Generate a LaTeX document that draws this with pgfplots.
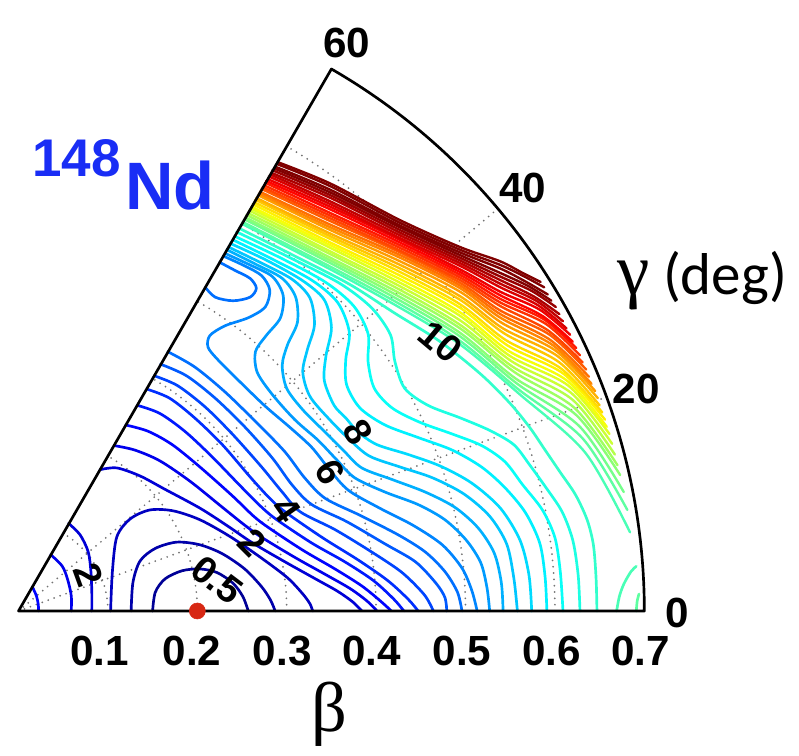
\documentclass[border=0pt]{standalone}
\usepackage{pgfplots}
\pgfplotsset{compat=1.18}
\usepackage{fontspec}
\setmainfont{Liberation Sans}
\newfontfamily\greekfont{Liberation Serif}
\newfontfamily\unitfont{Carlito}
\definecolor{nucblue}{RGB}{25,45,245}
\definecolor{dotred}{RGB}{215,40,20}
\definecolor{gridgray}{RGB}{115,115,115}
\tikzset{
  ticklab/.style={font=\bfseries\fontsize{30}{30}\selectfont, anchor=center},
  clab/.style={font=\bfseries\fontsize{27}{27}\selectfont, anchor=center, inner sep=0pt},
}
\begin{document}
\begin{tikzpicture}
\begin{axis}[
  x=223.5mm, y=223.5mm,
  xmin=-0.0207, xmax=0.8730, ymin=-0.1611, ymax=0.6834,
  hide axis, clip=false,
  % jet, saturating at dark red from about 23.5 MeV upwards
  colormap={jetx}{rgb255(0cm)=(0,0,128) rgb255(1cm)=(0,0,255) rgb255(3cm)=(0,255,255)
    rgb255(5cm)=(255,255,0) rgb255(7cm)=(255,0,0) rgb255(8cm)=(128,0,0) rgb255(8.5cm)=(128,0,0)},
  lev/.style={color of colormap={#1}, line width=1.9pt, smooth, line join=round, line cap=round},
  wall/.style={lev=#1, line width=1.7pt},
]
\path (rel axis cs:0,0) rectangle (rel axis cs:1,1);

% polar grid: beta circles every 0.1, gamma rays at 20 and 40 degrees
\begin{scope}[gridgray, line width=1.4pt, dash pattern=on 0pt off 4.5pt, line cap=round]
\draw (axis cs:0,0) ++(0:22.35mm) arc[start angle=0,end angle=60,radius=22.35mm];
\draw (axis cs:0,0) ++(0:44.7mm) arc[start angle=0,end angle=60,radius=44.7mm];
\draw (axis cs:0,0) ++(0:67.05mm) arc[start angle=0,end angle=60,radius=67.05mm];
\draw (axis cs:0,0) ++(0:89.4mm) arc[start angle=0,end angle=60,radius=89.4mm];
\draw (axis cs:0,0) ++(0:111.75mm) arc[start angle=0,end angle=60,radius=111.75mm];
\draw (axis cs:0,0) ++(0:134.1mm) arc[start angle=0,end angle=60,radius=134.1mm];
\draw (axis cs:0,0) -- ++(20:156.45mm);
\draw (axis cs:0,0) -- ++(40:156.45mm);
\end{scope}

% ---- potential energy contours, (beta cos gamma, beta sin gamma), levels in MeV ----
% 0.5
\addplot[lev=20] coordinates {(0.150,0)(0.153,0.021)(0.164,0.036)(0.183,0.045)(0.203,0.047)(0.222,0.043)(0.240,0.031)(0.251,0.016)(0.257,0)};
% 1.0
\addplot[lev=40] coordinates {(0.126,0)(0.128,0.032)(0.136,0.056)(0.153,0.070)(0.177,0.077)(0.203,0.074)(0.228,0.064)(0.253,0.047)(0.272,0.027)(0.282,0.012)(0.287,0)};
% 1.5
\addplot[lev=60] coordinates {(0.103,0)(0.105,0.044)(0.110,0.083)(0.125,0.103)(0.147,0.113)(0.173,0.112)(0.203,0.102)(0.237,0.083)(0.272,0.059)(0.301,0.037)(0.318,0.019)(0.326,0.008)(0.329,0)};
% 2.0
\addplot[lev=80] coordinates {(0.056,0.098)(0.069,0.085)(0.078,0.066)(0.081,0.044)(0.082,0.021)(0.082,0)};
\addplot[lev=80] coordinates {(0.091,0.158)(0.110,0.160)(0.136,0.151)(0.164,0.136)(0.203,0.115)(0.234,0.095)(0.262,0.076)(0.298,0.055)(0.332,0.036)(0.357,0.022)(0.374,0.010)(0.384,0)};
% 2.5
\addplot[lev=100] coordinates {(0.036,0.063)(0.049,0.050)(0.055,0.035)(0.059,0.017)(0.059,0)};
\addplot[lev=100] coordinates {(0.107,0.185)(0.130,0.180)(0.158,0.168)(0.192,0.145)(0.228,0.116)(0.253,0.096)(0.271,0.083)(0.309,0.060)(0.343,0.041)(0.371,0.025)(0.390,0.011)(0.401,0)};
% 3.0
\addplot[lev=120] coordinates {(0.0155,0.027)(0.020,0.017)(0.022,0.008)(0.0225,0)};
\addplot[lev=120] coordinates {(0.120,0.208)(0.145,0.201)(0.172,0.186)(0.203,0.161)(0.239,0.129)(0.263,0.106)(0.280,0.093)(0.318,0.068)(0.354,0.047)(0.384,0.028)(0.405,0.011)(0.417,0)};
% 3.5
\addplot[lev=140] coordinates {(0.133,0.230)(0.158,0.221)(0.186,0.201)(0.216,0.173)(0.248,0.140)(0.272,0.116)(0.289,0.102)(0.328,0.076)(0.365,0.055)(0.397,0.034)(0.420,0.013)(0.431,0)};
% 4.0
\addplot[lev=160] coordinates {(0.144,0.248)(0.169,0.238)(0.197,0.216)(0.228,0.186)(0.259,0.150)(0.281,0.126)(0.298,0.111)(0.340,0.082)(0.380,0.057)(0.413,0.034)(0.436,0.013)(0.447,0)};
% 4.5
\addplot[lev=180] coordinates {(0.152,0.263)(0.178,0.252)(0.209,0.228)(0.240,0.197)(0.272,0.161)(0.295,0.133)(0.315,0.111)(0.354,0.091)(0.395,0.066)(0.429,0.043)(0.454,0.018)(0.464,0)};
% 5.0
\addplot[lev=200] coordinates {(0.159,0.276)(0.188,0.263)(0.220,0.238)(0.253,0.206)(0.284,0.171)(0.306,0.141)(0.328,0.119)(0.367,0.100)(0.410,0.075)(0.444,0.055)(0.467,0.031)(0.477,0.015)(0.479,0)};
% 5.5 (main valley and oblate pocket)
\addplot[lev=220] coordinates {(0.167,0.290)(0.197,0.273)(0.231,0.245)(0.268,0.209)(0.298,0.178)(0.320,0.149)(0.343,0.126)(0.382,0.107)(0.425,0.085)(0.455,0.066)(0.477,0.044)(0.491,0.021)(0.496,0)};
\addplot[lev=220] coordinates {(0.225,0.390)(0.242,0.381)(0.259,0.372)(0.266,0.361)(0.259,0.351)(0.240,0.347)(0.220,0.351)(0.209,0.362)};
% 6.0
\addplot[lev=240] coordinates {(0.229,0.397)(0.253,0.386)(0.272,0.375)(0.281,0.359)(0.276,0.340)(0.257,0.328)(0.231,0.319)(0.214,0.308)(0.212,0.295)(0.223,0.281)(0.248,0.256)(0.276,0.229)(0.304,0.205)(0.328,0.183)(0.348,0.158)(0.369,0.135)(0.404,0.115)(0.441,0.096)(0.474,0.074)(0.496,0.048)(0.507,0.023)(0.513,0)};
% 6.5
\addplot[lev=260] coordinates {(0.231,0.400)(0.259,0.387)(0.284,0.374)(0.296,0.353)(0.293,0.328)(0.277,0.308)(0.265,0.290)(0.267,0.267)(0.284,0.242)(0.309,0.214)(0.335,0.191)(0.356,0.169)(0.376,0.149)(0.410,0.133)(0.447,0.119)(0.477,0.102)(0.501,0.079)(0.517,0.054)(0.524,0.026)(0.527,0)};
% 7.0
\addplot[lev=280] coordinates {(0.233,0.404)(0.265,0.388)(0.295,0.372)(0.310,0.351)(0.312,0.323)(0.301,0.298)(0.295,0.275)(0.300,0.249)(0.318,0.225)(0.343,0.200)(0.364,0.179)(0.384,0.160)(0.418,0.147)(0.455,0.133)(0.488,0.116)(0.514,0.093)(0.532,0.065)(0.540,0.032)(0.542,0)};
% 7.5
\addplot[lev=300] coordinates {(0.235,0.407)(0.270,0.390)(0.306,0.371)(0.326,0.350)(0.331,0.320)(0.323,0.292)(0.318,0.267)(0.326,0.240)(0.348,0.214)(0.372,0.190)(0.393,0.173)(0.427,0.161)(0.463,0.149)(0.498,0.131)(0.527,0.106)(0.546,0.075)(0.554,0.037)(0.558,0)};
% 8.0
\addplot[lev=320] coordinates {(0.237,0.411)(0.276,0.393)(0.317,0.370)(0.342,0.348)(0.350,0.317)(0.344,0.286)(0.342,0.258)(0.353,0.230)(0.366,0.216)(0.380,0.200)(0.401,0.186)(0.436,0.175)(0.472,0.162)(0.507,0.143)(0.539,0.115)(0.561,0.079)(0.571,0.040)(0.574,0)};
% 8.5
\addplot[lev=340] coordinates {(0.240,0.415)(0.281,0.395)(0.328,0.370)(0.357,0.345)(0.370,0.312)(0.366,0.281)(0.367,0.253)(0.382,0.227)(0.410,0.208)(0.447,0.194)(0.485,0.180)(0.518,0.161)(0.544,0.138)(0.567,0.110)(0.583,0.076)(0.589,0.038)(0.591,0)};
% 9.0
\addplot[lev=360] coordinates {(0.242,0.419)(0.293,0.395)(0.343,0.368)(0.375,0.341)(0.391,0.310)(0.391,0.279)(0.398,0.249)(0.418,0.227)(0.449,0.211)(0.485,0.198)(0.518,0.185)(0.544,0.167)(0.564,0.141)(0.586,0.113)(0.600,0.082)(0.606,0.044)(0.609,0)};
% 9.5
\addplot[lev=380] coordinates {(0.244,0.424)(0.304,0.395)(0.360,0.366)(0.395,0.339)(0.416,0.309)(0.421,0.279)(0.432,0.249)(0.458,0.230)(0.494,0.216)(0.527,0.202)(0.554,0.186)(0.572,0.163)(0.590,0.138)(0.608,0.111)(0.620,0.079)(0.626,0.040)(0.628,0)};
% 10.0
\addplot[lev=400] coordinates {(0.247,0.428)(0.315,0.394)(0.371,0.365)(0.421,0.333)(0.472,0.301)(0.518,0.264)(0.550,0.232)(0.572,0.205)(0.589,0.180)(0.606,0.155)(0.623,0.130)(0.636,0.102)(0.643,0.074)(0.646,0.037)(0.647,0)};
% 10.5 and 11.0 near the large-deformation corner
\addplot[lev=420] coordinates {(0.669,0)(0.672,0.016)(0.677,0.030)(0.685,0.044)(0.691,0.050)};
\addplot[lev=440] coordinates {(0.691,0)(0.692,0.011)(0.694,0.019)};
% steep wall towards large gamma, 10.5 ... 25
\addplot[wall=420] coordinates {(0.250,0.433)(0.349,0.382)(0.427,0.339)(0.494,0.298)(0.561,0.242)(0.634,0.177)(0.684,0.088)};
\addplot[wall=440] coordinates {(0.251,0.435)(0.349,0.385)(0.427,0.343)(0.494,0.302)(0.559,0.248)(0.631,0.193)(0.681,0.113)};
\addplot[wall=460] coordinates {(0.253,0.438)(0.349,0.389)(0.427,0.347)(0.494,0.307)(0.558,0.254)(0.628,0.206)(0.677,0.133)};
\addplot[wall=480] coordinates {(0.254,0.440)(0.349,0.392)(0.427,0.351)(0.494,0.311)(0.556,0.260)(0.624,0.219)(0.673,0.152)};
\addplot[wall=500] coordinates {(0.255,0.443)(0.349,0.395)(0.427,0.355)(0.494,0.316)(0.555,0.267)(0.622,0.227)(0.670,0.163)};
\addplot[wall=520] coordinates {(0.257,0.445)(0.349,0.399)(0.427,0.359)(0.494,0.320)(0.553,0.273)(0.620,0.236)(0.667,0.175)};
\addplot[wall=540] coordinates {(0.258,0.448)(0.349,0.402)(0.427,0.363)(0.494,0.325)(0.552,0.279)(0.618,0.244)(0.664,0.187)};
\addplot[wall=560] coordinates {(0.260,0.450)(0.349,0.406)(0.427,0.367)(0.494,0.330)(0.550,0.285)(0.615,0.252)(0.661,0.198)};
\addplot[wall=580] coordinates {(0.261,0.452)(0.349,0.409)(0.427,0.371)(0.494,0.334)(0.548,0.291)(0.613,0.258)(0.658,0.206)};
\addplot[wall=600] coordinates {(0.262,0.455)(0.349,0.412)(0.427,0.375)(0.494,0.339)(0.547,0.297)(0.610,0.265)(0.656,0.214)};
\addplot[wall=620] coordinates {(0.264,0.457)(0.349,0.416)(0.427,0.379)(0.494,0.343)(0.545,0.303)(0.607,0.271)(0.653,0.222)};
\addplot[wall=640] coordinates {(0.265,0.460)(0.349,0.419)(0.427,0.383)(0.494,0.348)(0.544,0.310)(0.605,0.278)(0.650,0.230)};
\addplot[wall=660] coordinates {(0.266,0.462)(0.349,0.422)(0.427,0.387)(0.494,0.352)(0.542,0.316)(0.603,0.285)(0.648,0.238)};
\addplot[wall=680] coordinates {(0.268,0.465)(0.349,0.426)(0.427,0.391)(0.494,0.357)(0.541,0.322)(0.601,0.291)(0.645,0.246)};
\addplot[wall=700] coordinates {(0.269,0.467)(0.349,0.429)(0.427,0.395)(0.494,0.361)(0.539,0.328)(0.598,0.297)(0.641,0.254)};
\addplot[wall=720] coordinates {(0.270,0.469)(0.349,0.432)(0.427,0.398)(0.494,0.364)(0.539,0.332)(0.595,0.303)(0.638,0.262)};
\addplot[wall=740] coordinates {(0.272,0.472)(0.349,0.436)(0.427,0.401)(0.494,0.367)(0.539,0.336)(0.594,0.309)(0.635,0.270)};
\addplot[wall=760] coordinates {(0.273,0.474)(0.349,0.439)(0.427,0.403)(0.494,0.370)(0.539,0.341)(0.592,0.314)(0.631,0.278)};
\addplot[wall=780] coordinates {(0.275,0.476)(0.349,0.442)(0.427,0.406)(0.494,0.373)(0.539,0.345)(0.590,0.321)(0.628,0.286)};
\addplot[wall=800] coordinates {(0.276,0.479)(0.349,0.445)(0.427,0.409)(0.494,0.376)(0.539,0.349)(0.588,0.326)(0.624,0.294)};
\addplot[wall=820] coordinates {(0.277,0.481)(0.349,0.449)(0.427,0.412)(0.494,0.379)(0.539,0.353)(0.586,0.330)(0.620,0.301)};
\addplot[wall=840] coordinates {(0.279,0.483)(0.349,0.452)(0.427,0.415)(0.494,0.382)(0.539,0.357)(0.583,0.337)(0.617,0.309)};
\addplot[wall=860] coordinates {(0.280,0.486)(0.349,0.455)(0.427,0.417)(0.494,0.386)(0.539,0.362)(0.581,0.342)(0.613,0.316)};
\addplot[wall=880] coordinates {(0.282,0.488)(0.349,0.458)(0.427,0.420)(0.494,0.389)(0.539,0.366)(0.579,0.347)(0.609,0.324)};
\addplot[wall=900] coordinates {(0.283,0.490)(0.349,0.462)(0.427,0.423)(0.494,0.392)(0.539,0.370)(0.576,0.352)(0.605,0.332)};
\addplot[wall=920] coordinates {(0.284,0.493)(0.349,0.465)(0.427,0.426)(0.494,0.395)(0.539,0.374)(0.574,0.358)(0.601,0.340)};
\addplot[wall=940] coordinates {(0.286,0.495)(0.349,0.468)(0.427,0.429)(0.494,0.398)(0.539,0.378)(0.571,0.363)(0.596,0.347)};
\addplot[wall=960] coordinates {(0.287,0.497)(0.349,0.471)(0.427,0.431)(0.494,0.401)(0.539,0.383)(0.568,0.368)(0.592,0.354)};
\addplot[wall=980] coordinates {(0.289,0.500)(0.349,0.475)(0.427,0.434)(0.494,0.404)(0.539,0.387)(0.566,0.374)(0.588,0.362)};
\addplot[wall=1000] coordinates {(0.290,0.502)(0.349,0.478)(0.427,0.437)(0.494,0.407)(0.539,0.391)(0.564,0.378)(0.584,0.368)};

% frame of the (beta, gamma) sector
\draw[black, line width=1.9pt, line join=round] (axis cs:0,0) -- ++(0:156.45mm) arc[start angle=0,end angle=60,radius=156.45mm] -- cycle;

% prolate minimum
\addplot[only marks, mark=*, mark size=2mm, dotred, draw=none] coordinates {(0.2,0)};

% contour labels
\node[clab, rotate=-37] at (axis cs:0.222,0.035) {0.5};
\node[clab, rotate=-45] at (axis cs:0.262,0.076) {2};
\node[clab, rotate=-55] at (axis cs:0.300,0.113) {4};
\node[clab, rotate=-60] at (axis cs:0.348,0.155) {6};
\node[clab, rotate=-60] at (axis cs:0.380,0.200) {8};
\node[clab, rotate=-40] at (axis cs:0.472,0.301) {10};
\node[clab, rotate=-70] at (axis cs:0.078,0.040) {2};

% beta ticks
\node[ticklab] at (axis cs:0.091,-0.0447) {0.1};
\node[ticklab] at (axis cs:0.194,-0.0447) {0.2};
\node[ticklab] at (axis cs:0.295,-0.0447) {0.3};
\node[ticklab] at (axis cs:0.395,-0.0447) {0.4};
\node[ticklab] at (axis cs:0.496,-0.0447) {0.5};
\node[ticklab] at (axis cs:0.596,-0.0447) {0.6};
\node[ticklab] at (axis cs:0.696,-0.0447) {0.7};
% gamma ticks
\node[ticklab] at (axis cs:0.367,0.635) {60};
\node[ticklab] at (axis cs:0.564,0.473) {40};
\node[ticklab] at (axis cs:0.691,0.248) {20};
\node[ticklab] at (axis cs:0.737,-0.002) {0};

% axis titles
\node[anchor=center] at (axis cs:0.348,-0.116) {\greekfont\fontsize{50}{50}\selectfont β};
\node[anchor=base west, inner sep=0pt] at (axis cs:0.6695,0.3535) {{\greekfont\fontsize{52}{52}\selectfont γ}{\unitfont\fontsize{42}{42}\selectfont\ (deg)}};

% nucleus
\node[anchor=base west, inner sep=0pt, text=nucblue] at (axis cs:0.0151,0.4855) {\bfseries\fontsize{37.7}{38}\selectfont 148};
\node[anchor=base west, inner sep=0pt, text=nucblue] at (axis cs:0.1191,0.4486) {\bfseries\fontsize{47.7}{48}\selectfont Nd};
\end{axis}
\end{tikzpicture}
\end{document}
